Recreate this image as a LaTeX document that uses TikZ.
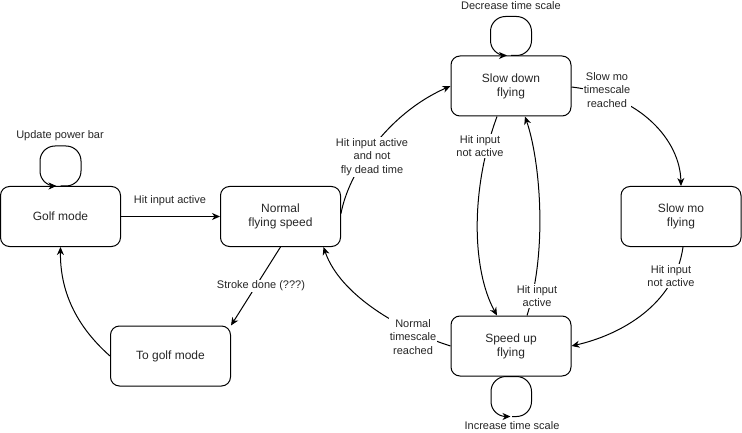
\documentclass[tikz,border=0pt]{standalone}
\usepackage{fontspec}
\setmainfont{Liberation Sans}
\usetikzlibrary{arrows.meta}
\tikzset{
  state/.style={draw, line width=1pt, rounded corners=9pt, minimum width=120pt, minimum height=60pt, align=center, font=\fontsize{12}{14}\selectfont, text=black!85, inner sep=0pt},
  conn/.style={line width=1pt, -{Stealth[length=8pt,width=7pt,inset=2.5pt]}},
  loopconn/.style={conn, rounded corners=15pt},
  lbl/.style={fill=white, align=center, inner sep=1pt, text=black!85, font=\fontsize{11}{13.5}\selectfont},
}
\begin{document}
\begin{tikzpicture}[x=1pt,y=-1pt]
\useasboundingbox (0,0) rectangle (742,433);
% states
\node[state] (golf)    at (60.5,216.5) {Golf mode};
\node[state] (normal)  at (280.5,216.5) {Normal\\flying speed};
\node[state] (slow)    at (511,86) {Slow down\\flying};
\node[state] (slowmo)  at (681,216.5) {Slow mo\\flying};
\node[state] (speedup) at (511,346) {Speed up\\flying};
\node[state] (togolf)  at (170.5,356) {To golf mode};

% self loops
\draw[loopconn] (golf.north) -| ([xshift=20.5pt,yshift=40pt]golf.north) -| ([xshift=-20.5pt]golf.north) -- ([xshift=-4pt]golf.north);
\draw[loopconn] (slow.north) -| ([xshift=20.5pt,yshift=39pt]slow.north) -| ([xshift=-20.5pt]slow.north) -- ([xshift=-4pt]slow.north);
\draw[loopconn] ([xshift=1pt,yshift=-40pt]speedup.south) -| ([xshift=20.5pt]speedup.south) -| ([xshift=-20pt,yshift=-40pt]speedup.south) -- ([xshift=-0.5pt,yshift=-40pt]speedup.south);

% connectors
\draw[conn] (golf.east) -- (normal.west);
\draw[conn] ([yshift=3pt]normal.east) .. controls (348,175) and (385,115) .. (slow.west);
\draw[conn] ([yshift=-1pt]slow.east) .. controls (640,95) and (680,140) .. (slowmo.north);
\draw[conn] ([xshift=-14pt]slow.south) .. controls (470,190) and (472,270) .. ([xshift=-14pt]speedup.north);
\draw[conn] ([xshift=16pt]speedup.north) .. controls (548,250) and (540,160) .. ([xshift=14pt]slow.south);
\draw[conn] ([xshift=2pt]slowmo.south) .. controls (675,305) and (620,335) .. (speedup.east);
\draw[conn] (speedup.west) .. controls (400,330) and (340,295) .. ([xshift=43pt]normal.south);
\draw[conn] (normal.south) -- (togolf.north east);
\draw[conn] (togolf.west) .. controls (75,325) and (60,290) .. (golf.south);

% labels
\node[lbl] (l1) at (60,136) {Update power bar};
\node[lbl] (l2) at (170,201) {Hit input active};
\node[lbl] (l3) at (511,6) {Decrease time scale};
\node[lbl] (l4) at (607,90) {Slow mo\\timescale\\reached};
\node[lbl] (l5) at (372,157) {Hit input active\\and not\\fly dead time};
\node[lbl] (l6) at (480,146) {Hit input\\not active};
\node[lbl] (l7) at (261,286) {Stroke done (???)};
\node[lbl] (l8) at (413,337) {Normal\\timescale\\reached};
\node[lbl] (l9) at (537,296) {Hit input\\active};
\node[lbl] (l10) at (671,276) {Hit input\\not active};
\node[lbl] (l11) at (512,426) {Increase time scale};
\end{tikzpicture}
\end{document}
